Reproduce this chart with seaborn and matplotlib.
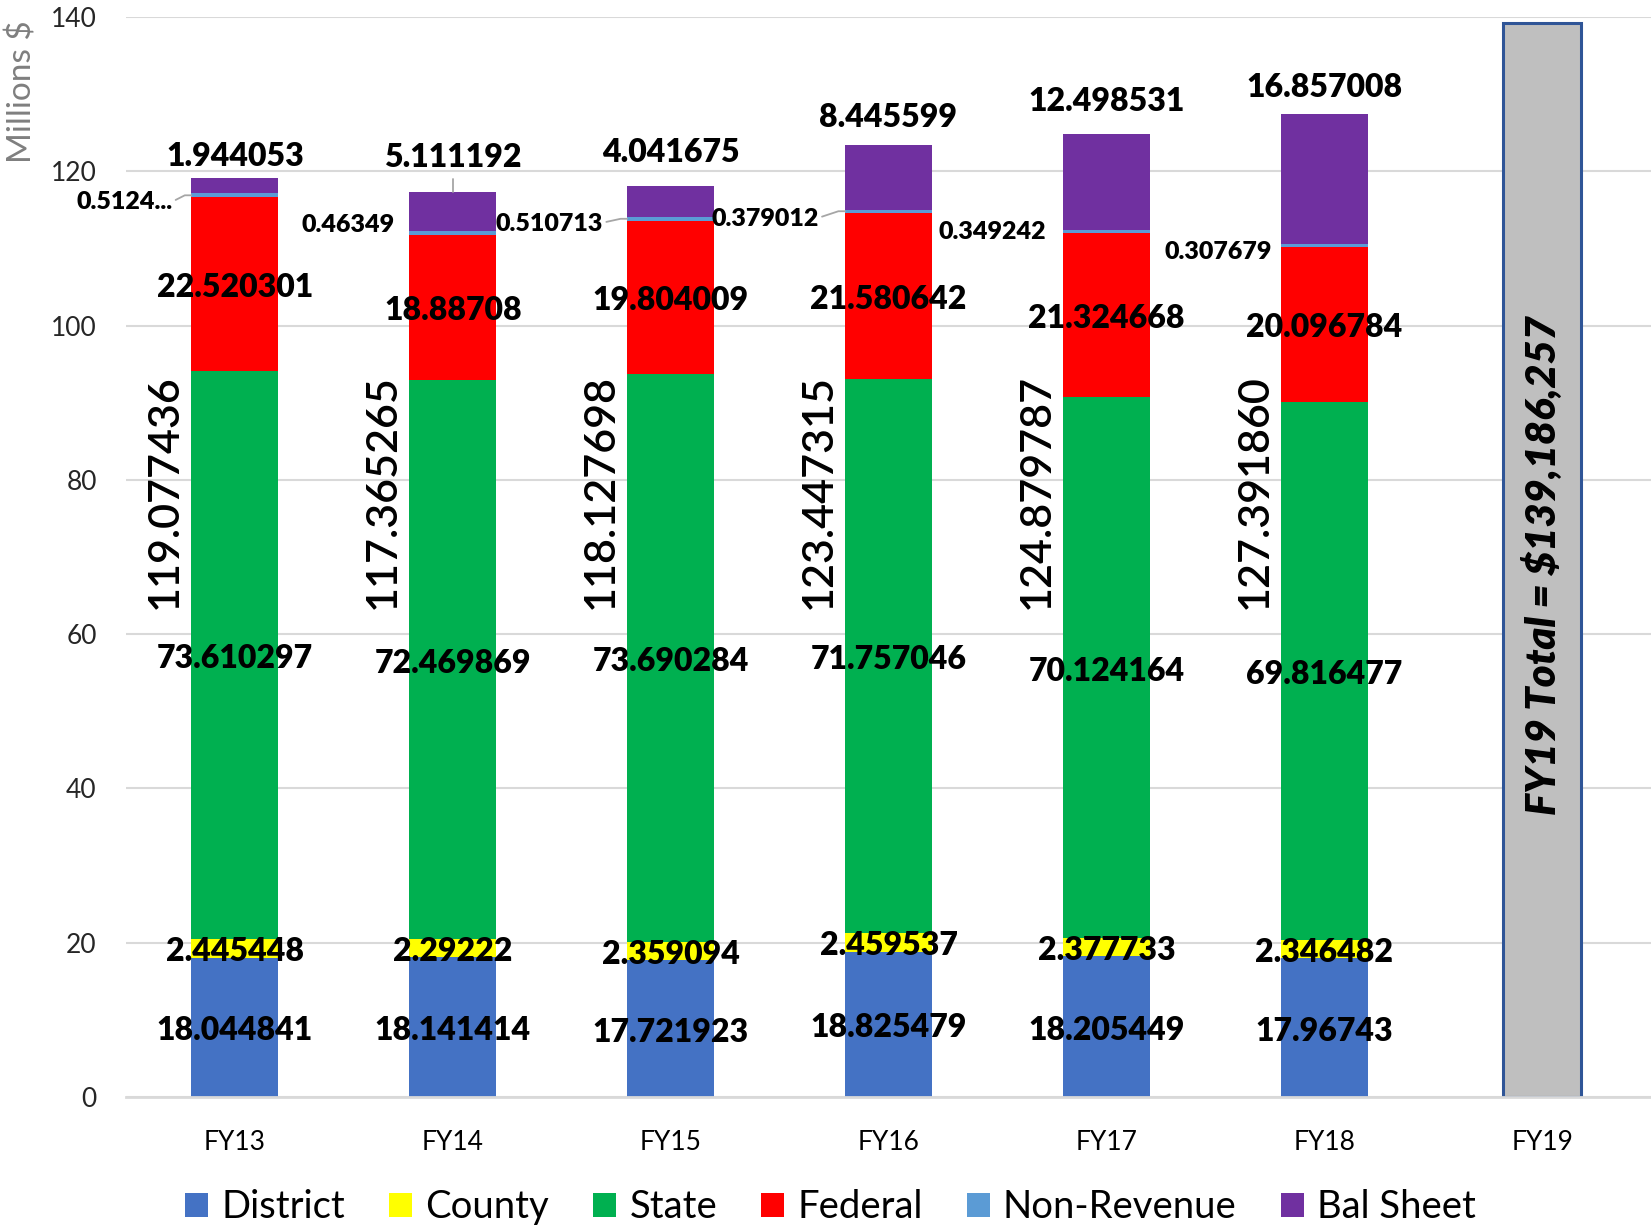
import numpy as np
import pandas as pd
import matplotlib
matplotlib.use("Agg")
import matplotlib.pyplot as plt
from matplotlib.patches import Patch
import seaborn as sns

# ---- data (millions of dollars) ----
years = ["FY13", "FY14", "FY15", "FY16", "FY17", "FY18", "FY19"]
hist_years = years[:6]
district = [18.044841, 18.141414, 17.721923, 18.825479, 18.205449, 17.96743]
county = [2.445448, 2.29222, 2.359094, 2.459537, 2.377733, 2.346482]
state = [73.610297, 72.469869, 73.690284, 71.757046, 70.124164, 69.816477]
federal = [22.520301, 18.88708, 19.804009, 21.580642, 21.324668, 20.096784]
non_revenue = [0.512496, 0.46349, 0.510713, 0.379012, 0.349242, 0.307679]
bal_sheet = [1.944053, 5.111192, 4.041675, 8.445599, 12.498531, 16.857008]
totals = [119.077436, 117.365265, 118.127698, 123.447315, 124.879787, 127.391860]
fy19_total = 139.186257

series_names = ["District", "County", "State", "Federal", "Non-Revenue", "Bal Sheet"]
series_colors = ["#4472C4", "#FFFF00", "#00B050", "#FF0000", "#5B9BD5", "#7030A0"]

# ---- label layout tweaks (offsets in data / category units) ----
bal_dy = [3.3, 4.8, 4.7, 4.0, 4.6, 3.9]          # label centre above bar top
nonrev_dy = [-0.6, 1.3, -0.4, -0.7, 0.2, -0.6]   # label centre vs segment centre
nonrev_gap = [0.087, 0.069, 0.11, 0.12, 0.078, 0.041]
nonrev_leader = [True, False, True, True, False, False]
TEXT_DY = -0.45                                   # optical centring of digits

sns.set_style("white")
plt.rcParams["font.family"] = ["Lato", "DejaVu Sans"]

fig = plt.figure(figsize=(16.51, 12.27), dpi=100)
ax = fig.add_axes([0.0763, 0.106, 0.9237, 0.8802])

layers = np.array([district, county, state, federal, non_revenue, bal_sheet])
cum = np.cumsum(layers, axis=0)
BAR_W = 0.4

# stacked bars: draw cumulative heights from the top layer down
for i in range(len(series_names) - 1, -1, -1):
    sns.barplot(x=hist_years, y=cum[i], order=years, color=series_colors[i],
                width=BAR_W, saturation=1, linewidth=0, errorbar=None, ax=ax)

# FY19 total bar
sns.barplot(x=["FY19"], y=[fy19_total], order=years, color="#BFBFBF",
            width=0.36, saturation=1, edgecolor="#2F5597", linewidth=2.2,
            errorbar=None, ax=ax)

ax.set_xlim(-0.5, 6.5)
ax.set_ylim(0, 140)
ax.set_yticks(range(0, 141, 20))
ax.set_xlabel("")
ax.set_ylabel("")
ax.yaxis.grid(True, color="#D9D9D9", linewidth=1.5)
ax.set_axisbelow(True)
for s in ["left", "right", "top"]:
    ax.spines[s].set_visible(False)
ax.spines["bottom"].set_color("#D9D9D9")
ax.spines["bottom"].set_linewidth(2)
ax.tick_params(axis="y", length=0, pad=21, labelsize=19, labelcolor="#262626")
ax.tick_params(axis="x", length=0, pad=24, labelsize=19, labelcolor="#000000")

big = dict(fontsize=23, fontweight="heavy", color="black", ha="center", va="center")
small = dict(fontsize=18, fontweight="heavy", color="black", va="center", ha="right")
lead = dict(color="#A6A6A6", linewidth=1.3)

nonrev_labels = [f"{v}" for v in non_revenue]
nonrev_labels[0] = nonrev_labels[0][:6] + "..."

for j in range(len(hist_years)):
    x = j
    left = x - BAR_W / 2
    # District, County, State, Federal: centred in segment
    for i in range(4):
        bottom = cum[i][j] - layers[i][j]
        ax.text(x, bottom + layers[i][j] / 2 + TEXT_DY, f"{layers[i][j]}", **big)
    # Non-Revenue: beside the bar
    seg_mid = cum[4][j] - non_revenue[j] / 2
    ly = seg_mid + nonrev_dy[j]
    lx = left - nonrev_gap[j]
    ax.text(lx, ly + TEXT_DY * 0.6, nonrev_labels[j], **small)
    if nonrev_leader[j]:
        ax.plot([lx + 0.015, left - 0.03, left], [ly, seg_mid, seg_mid], **lead)
    # Bal Sheet: above the bar
    ax.text(x, totals[j] + bal_dy[j] + TEXT_DY, f"{bal_sheet[j]}", **big)
    if j == 1:
        ax.plot([x, x], [totals[j], totals[j] + 1.6], **lead)
    # total, rotated beside the bar
    ax.text(x - 0.32, 78.5, f"{totals[j]:.6f}", rotation=90, fontsize=31,
            fontweight="semibold", color="black", ha="center", va="center")

ax.text(6, 68.9, f"FY19 Total = ${fy19_total * 1e6:,.0f}", rotation=90,
        fontsize=30, fontweight="heavy", fontstyle="italic", color="black",
        ha="center", va="center")

fig.text(0.0136, 0.983, "Millions $", rotation=90, fontsize=24,
         color="#7F7F7F", ha="center", va="top")

handles = [Patch(facecolor=c, edgecolor="none") for c in series_colors]
fig.legend(handles, series_names, loc="center", bbox_to_anchor=(0.503, 0.016),
           ncol=6, frameon=False, fontsize=27.5, labelcolor="black",
           handlelength=0.6, handleheight=0.6, handletextpad=0.35,
           columnspacing=1.15)

fig.savefig("out.png", dpi=100)
